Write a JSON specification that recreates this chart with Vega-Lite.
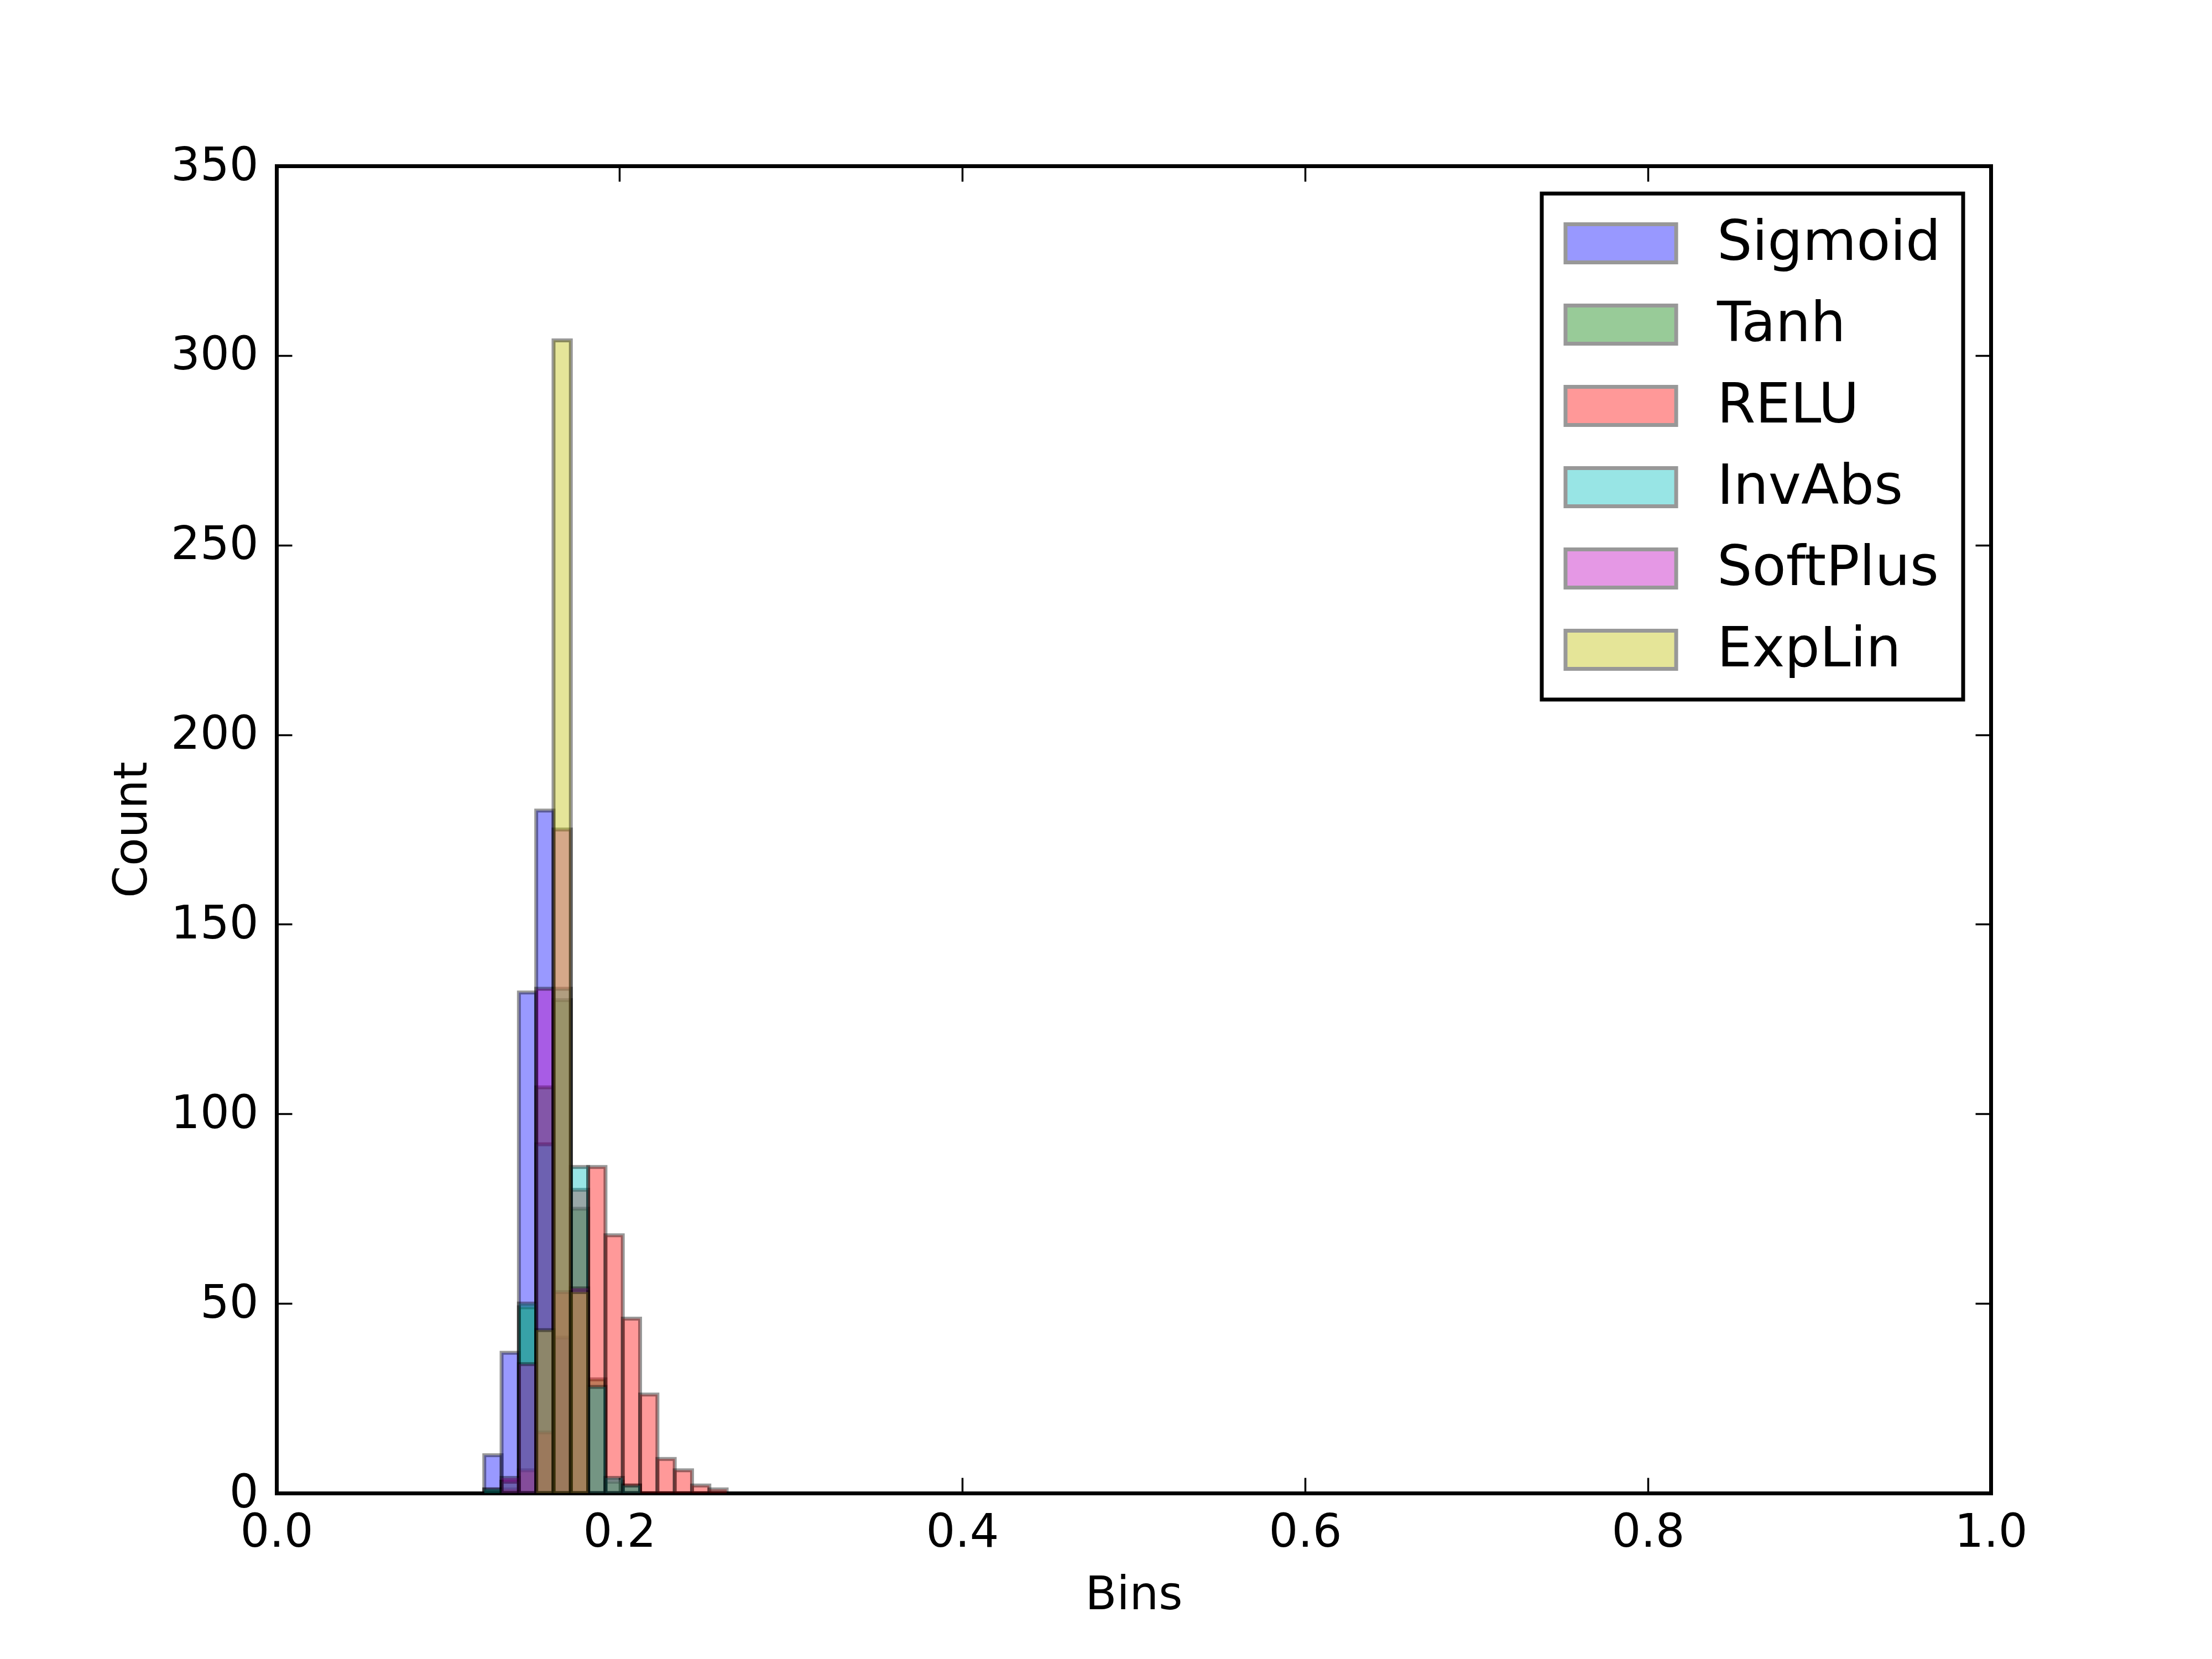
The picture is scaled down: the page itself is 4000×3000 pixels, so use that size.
{
  "$schema": "https://vega.github.io/schema/vega-lite/v6.json",
  "description": "Overlaid histograms of six activation functions",
  "width": 3100,
  "height": 2400,
  "autosize": "none",
  "padding": {"left": 500, "top": 300, "right": 400, "bottom": 300},
  "background": "white",
  "data": {
    "values": [
      {"series": "Sigmoid", "bin_start": 0.1212, "bin_end": 0.1313, "count": 10},
      {"series": "Sigmoid", "bin_start": 0.1313, "bin_end": 0.1414, "count": 37},
      {"series": "Sigmoid", "bin_start": 0.1414, "bin_end": 0.1515, "count": 132},
      {"series": "Sigmoid", "bin_start": 0.1515, "bin_end": 0.1616, "count": 180},
      {"series": "Sigmoid", "bin_start": 0.1616, "bin_end": 0.1717, "count": 41},

      {"series": "Tanh", "bin_start": 0.1212, "bin_end": 0.1313, "count": 1},
      {"series": "Tanh", "bin_start": 0.1313, "bin_end": 0.1414, "count": 3},
      {"series": "Tanh", "bin_start": 0.1414, "bin_end": 0.1515, "count": 49},
      {"series": "Tanh", "bin_start": 0.1515, "bin_end": 0.1616, "count": 107},
      {"series": "Tanh", "bin_start": 0.1616, "bin_end": 0.1717, "count": 130},
      {"series": "Tanh", "bin_start": 0.1717, "bin_end": 0.1818, "count": 75},
      {"series": "Tanh", "bin_start": 0.1818, "bin_end": 0.1919, "count": 30},
      {"series": "Tanh", "bin_start": 0.1919, "bin_end": 0.2020, "count": 3},
      {"series": "Tanh", "bin_start": 0.2020, "bin_end": 0.2121, "count": 2},

      {"series": "RELU", "bin_start": 0.1313, "bin_end": 0.1414, "count": 1},
      {"series": "RELU", "bin_start": 0.1414, "bin_end": 0.1515, "count": 6},
      {"series": "RELU", "bin_start": 0.1515, "bin_end": 0.1616, "count": 16},
      {"series": "RELU", "bin_start": 0.1616, "bin_end": 0.1717, "count": 53},
      {"series": "RELU", "bin_start": 0.1717, "bin_end": 0.1818, "count": 80},
      {"series": "RELU", "bin_start": 0.1818, "bin_end": 0.1919, "count": 86},
      {"series": "RELU", "bin_start": 0.1919, "bin_end": 0.2020, "count": 68},
      {"series": "RELU", "bin_start": 0.2020, "bin_end": 0.2121, "count": 46},
      {"series": "RELU", "bin_start": 0.2121, "bin_end": 0.2222, "count": 26},
      {"series": "RELU", "bin_start": 0.2222, "bin_end": 0.2323, "count": 9},
      {"series": "RELU", "bin_start": 0.2323, "bin_end": 0.2424, "count": 6},
      {"series": "RELU", "bin_start": 0.2424, "bin_end": 0.2525, "count": 2},
      {"series": "RELU", "bin_start": 0.2525, "bin_end": 0.2626, "count": 1},

      {"series": "InvAbs", "bin_start": 0.1212, "bin_end": 0.1313, "count": 1},
      {"series": "InvAbs", "bin_start": 0.1313, "bin_end": 0.1414, "count": 3},
      {"series": "InvAbs", "bin_start": 0.1414, "bin_end": 0.1515, "count": 50},
      {"series": "InvAbs", "bin_start": 0.1515, "bin_end": 0.1616, "count": 92},
      {"series": "InvAbs", "bin_start": 0.1616, "bin_end": 0.1717, "count": 133},
      {"series": "InvAbs", "bin_start": 0.1717, "bin_end": 0.1818, "count": 86},
      {"series": "InvAbs", "bin_start": 0.1818, "bin_end": 0.1919, "count": 28},
      {"series": "InvAbs", "bin_start": 0.1919, "bin_end": 0.2020, "count": 4},
      {"series": "InvAbs", "bin_start": 0.2020, "bin_end": 0.2121, "count": 2},

      {"series": "SoftPlus", "bin_start": 0.1313, "bin_end": 0.1414, "count": 4},
      {"series": "SoftPlus", "bin_start": 0.1414, "bin_end": 0.1515, "count": 34},
      {"series": "SoftPlus", "bin_start": 0.1515, "bin_end": 0.1616, "count": 133},
      {"series": "SoftPlus", "bin_start": 0.1616, "bin_end": 0.1717, "count": 175},
      {"series": "SoftPlus", "bin_start": 0.1717, "bin_end": 0.1818, "count": 54},

      {"series": "ExpLin", "bin_start": 0.1515, "bin_end": 0.1616, "count": 43},
      {"series": "ExpLin", "bin_start": 0.1616, "bin_end": 0.1717, "count": 304},
      {"series": "ExpLin", "bin_start": 0.1717, "bin_end": 0.1818, "count": 53}
    ]
  },
  "layer": [
    {
      "mark": {
        "type": "rect",
        "fillOpacity": 0.4,
        "stroke": "black",
        "strokeOpacity": 0.4,
        "strokeWidth": 7
      },
      "encoding": {
        "x": {
          "field": "bin_start",
          "type": "quantitative",
          "scale": {"domain": [0, 1], "nice": false, "zero": false},
          "axis": {
            "orient": "bottom",
            "values": [0, 0.2, 0.4, 0.6, 0.8, 1.0],
            "format": ".1f",
            "title": "Bins",
            "tickSize": -28,
            "labelPadding": 58,
            "titlePadding": 30
          }
        },
        "x2": {"field": "bin_end"},
        "y": {
          "field": "count",
          "type": "quantitative",
          "scale": {"domain": [0, 350], "nice": false},
          "axis": {
            "orient": "left",
            "values": [0, 50, 100, 150, 200, 250, 300, 350],
            "title": "Count",
            "tickSize": -28,
            "labelPadding": 61,
            "titlePadding": 27
          }
        },
        "y2": {"datum": 0},
        "color": {
          "field": "series",
          "type": "nominal",
          "sort": null,
          "scale": {
            "domain": ["Sigmoid", "Tanh", "RELU", "InvAbs", "SoftPlus", "ExpLin"],
            "range": ["#0000ff", "#008000", "#ff0000", "#00bfbf", "#bf00bf", "#bfbf00"]
          },
          "legend": {
            "title": null,
            "orient": "none",
            "legendX": 2288,
            "legendY": 50,
            "padding": 40,
            "rowPadding": 47,
            "labelOffset": 124,
            "labelLimit": 3000,
            "labelFontSize": 100,
            "labelFont": "DejaVu Sans",
            "labelColor": "black",
            "symbolType": "M-2.9,-1L2.9,-1L2.9,1L-2.9,1Z",
            "symbolSize": 4761,
            "symbolOffset": 53,
            "symbolOpacity": 0.4,
            "symbolStrokeColor": "black",
            "symbolStrokeWidth": 7,
            "strokeColor": "black",
            "fillColor": "white",
            "cornerRadius": 0,
            "encode": {"legend": {"update": {"strokeWidth": {"value": 7}}}}
          }
        }
      }
    },
    {
      "mark": {"type": "rect", "opacity": 0},
      "encoding": {
        "x": {
          "field": "bin_start",
          "type": "quantitative",
          "axis": {
            "orient": "top",
            "values": [0, 0.2, 0.4, 0.6, 0.8, 1.0],
            "labels": false,
            "title": null,
            "tickSize": -28
          }
        },
        "x2": {"field": "bin_end"},
        "y": {
          "field": "count",
          "type": "quantitative",
          "axis": {
            "orient": "right",
            "values": [0, 50, 100, 150, 200, 250, 300, 350],
            "labels": false,
            "title": null,
            "tickSize": -28
          }
        }
      }
    }
  ],
  "resolve": {"axis": {"x": "independent", "y": "independent"}},
  "config": {
    "view": {"stroke": null},
    "font": "DejaVu Sans",
    "axis": {
      "grid": false,
      "domain": true,
      "domainColor": "black",
      "domainWidth": 7,
      "domainCap": "square",
      "tickColor": "black",
      "tickWidth": 3.5,
      "labelFont": "DejaVu Sans",
      "labelFontSize": 83,
      "labelColor": "black",
      "labelFlush": false,
      "labelOverlap": false,
      "titleFont": "DejaVu Sans",
      "titleFontSize": 83,
      "titleFontWeight": "normal",
      "titleColor": "black",
      "zindex": 1
    }
  }
}
